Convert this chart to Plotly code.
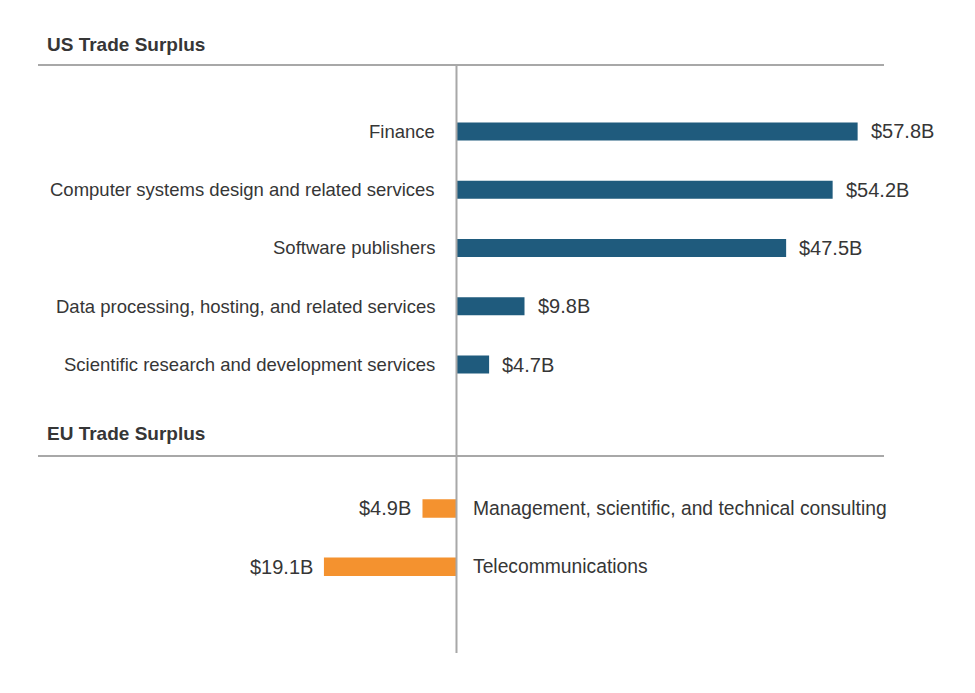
import plotly.graph_objects as go

# ---- data ----
us_categories = [
    "Finance",
    "Computer systems design and related services",
    "Software publishers",
    "Data processing, hosting, and related services",
    "Scientific research and development services",
]
us_values = [57.8, 54.2, 47.5, 9.8, 4.7]

eu_categories = [
    "Management, scientific, and technical consulting",
    "Telecommunications",
]
eu_values = [4.9, 19.1]

section_titles = ["US Trade Surplus", "EU Trade Surplus"]

# ---- style ----
BLUE = "#1F5B7D"
ORANGE = "#F4922F"
TEXT = "#363636"
LINE = "#a8a8a8"
FONT = "Liberation Sans"
FS_US = 18.5
FS_EU = 19.3
FSV = 20

us_pos = list(range(len(us_categories)))
eu_start = len(us_categories) + 1.47
eu_pos = [eu_start + j for j in range(len(eu_categories))]
eu_sep = len(us_categories) + 0.57

fig = go.Figure()
fig.add_trace(go.Bar(
    y=us_pos, x=us_values, orientation="h", width=0.31,
    marker=dict(color=BLUE, line=dict(width=0)), hoverinfo="skip",
))
fig.add_trace(go.Bar(
    y=eu_pos, x=[-v for v in eu_values], orientation="h", width=0.32,
    marker=dict(color=ORANGE, line=dict(width=0)), hoverinfo="skip",
))

ann = []
for p, c, v in zip(us_pos, us_categories, us_values):
    ann.append(dict(x=0, y=p, xref="x", yref="y", text=c, showarrow=False,
                    xanchor="right", xshift=-19, font=dict(size=FS_US, color=TEXT, family=FONT)))
    ann.append(dict(x=v, y=p, xref="x", yref="y", text=f"${v}B", showarrow=False,
                    xanchor="left", xshift=11, font=dict(size=FSV, color=TEXT, family=FONT)))
for p, c, v in zip(eu_pos, eu_categories, eu_values):
    ann.append(dict(x=0, y=p, xref="x", yref="y", text=c, showarrow=False,
                    xanchor="left", xshift=15, font=dict(size=FS_EU, color=TEXT, family=FONT)))
    ann.append(dict(x=-v, y=p, xref="x", yref="y", text=f"${v}B", showarrow=False,
                    xanchor="right", xshift=-9, font=dict(size=FSV, color=TEXT, family=FONT)))

ann.append(dict(x=0, y=1, xref="paper", yref="paper", text=f"<b>{section_titles[0]}</b>",
                showarrow=False, xanchor="left", yanchor="middle", xshift=7, yshift=21,
                font=dict(size=19, color=TEXT, family=FONT)))
ann.append(dict(x=0, y=eu_sep, xref="paper", yref="y", text=f"<b>{section_titles[1]}</b>",
                showarrow=False, xanchor="left", yanchor="middle", xshift=7, yshift=23,
                font=dict(size=19, color=TEXT, family=FONT)))

shapes = [
    dict(type="line", xref="paper", yref="paper", x0=0, x1=1, y0=1, y1=1,
         line=dict(color=LINE, width=2)),
    dict(type="line", xref="paper", yref="y", x0=0, x1=1, y0=eu_sep, y1=eu_sep,
         line=dict(color=LINE, width=2)),
    dict(type="line", xref="x", yref="paper", x0=0, x1=0, y0=0, y1=1,
         line=dict(color=LINE, width=2)),
]

fig.update_layout(
    width=975, height=693,
    margin=dict(l=30, r=99, t=57, b=48),
    paper_bgcolor="white", plot_bgcolor="white",
    showlegend=False, barmode="overlay",
    annotations=ann, shapes=shapes,
    xaxis=dict(range=[-60.3, 61.6], visible=False, fixedrange=True),
    yaxis=dict(range=[8.95, -1.14], visible=False, fixedrange=True),
)

fig.write_html("out.html")
